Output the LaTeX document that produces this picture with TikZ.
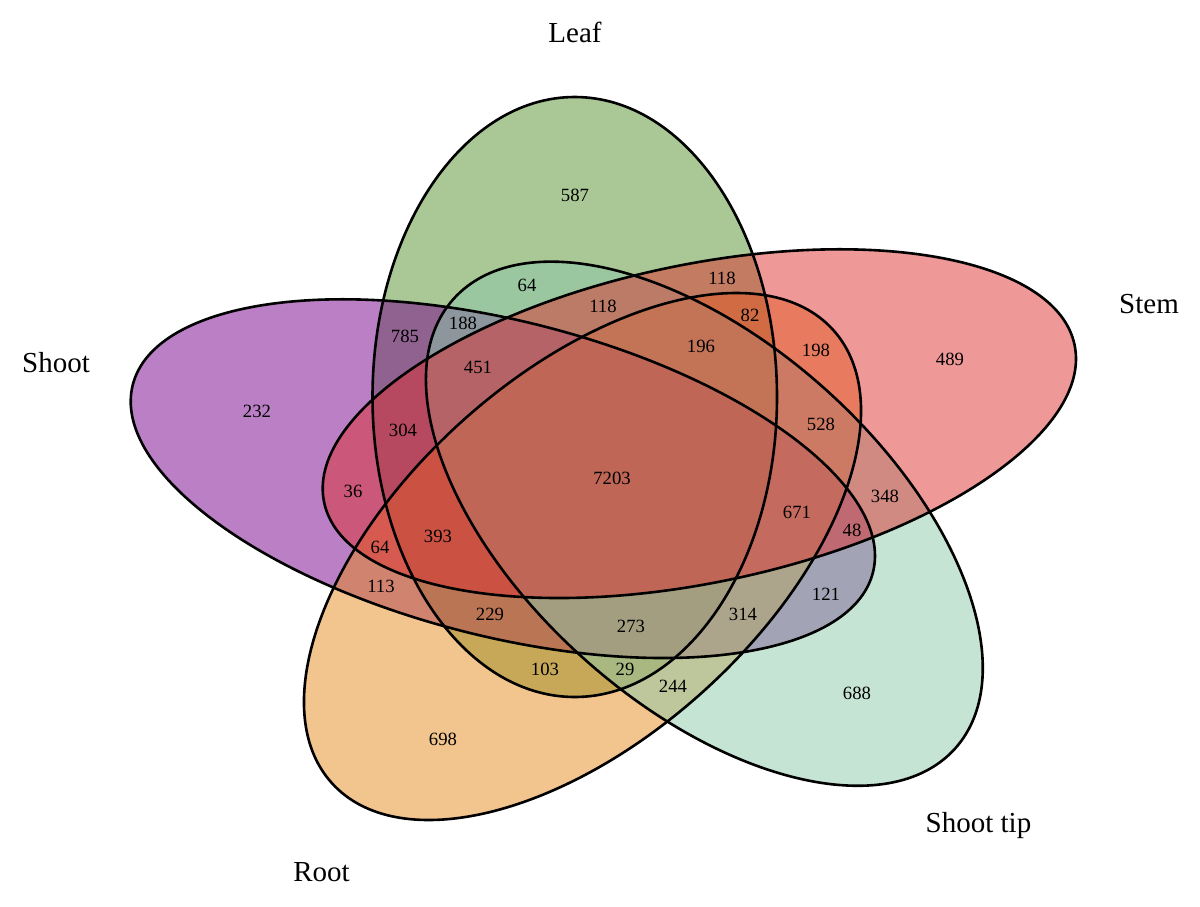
\documentclass[tikz,border=0pt]{standalone}
\usepackage{fontspec}
\setmainfont{Liberation Serif}
\definecolor{leafc}{RGB}{85,143,45}
\definecolor{shootc}{RGB}{118,0,138}
\definecolor{rootc}{RGB}{229,137,29}
\definecolor{tipc}{RGB}{139,201,169}
\definecolor{stemc}{RGB}{221,49,49}
\begin{document}
\begin{tikzpicture}[x=1pt,y=-1pt,
  num/.style={font=\fontsize{18.7}{22}\selectfont, inner sep=0pt},
  setlab/.style={font=\fontsize{29}{34}\selectfont, inner sep=0pt},
  outline/.style={line width=2.6pt, draw=black},
  setfill/.style={fill=#1, fill opacity=0.5}]
\useasboundingbox (0,0) rectangle (1200,906);
% fills (drawing order: Leaf, Shoot, Root, Shoot tip, Stem)
\fill[setfill=leafc] (574.75,397) ellipse [x radius=202.25pt, y radius=300pt];
\fill[setfill=shootc, rotate around={-14.22:(502.85,478.65)}] (502.85,478.65) ellipse [x radius=381.8pt, y radius=157.7pt];
\fill[setfill=rootc, rotate around={42.13:(582.5,556.5)}] (582.5,556.5) ellipse [x radius=337.9pt, y radius=181.1pt];
\fill[setfill=tipc, rotate around={-41.86:(704.35,523.7)}] (704.35,523.7) ellipse [x radius=336.8pt, y radius=180.9pt];
\fill[setfill=stemc, rotate around={11.86:(699.35,423.65)}] (699.35,423.65) ellipse [x radius=383.4pt, y radius=158.9pt];
% outlines
\draw[outline] (574.75,397) ellipse [x radius=202.25pt, y radius=300pt];
\draw[outline, rotate around={-14.22:(502.85,478.65)}] (502.85,478.65) ellipse [x radius=381.8pt, y radius=157.7pt];
\draw[outline, rotate around={42.13:(582.5,556.5)}] (582.5,556.5) ellipse [x radius=337.9pt, y radius=181.1pt];
\draw[outline, rotate around={-41.86:(704.35,523.7)}] (704.35,523.7) ellipse [x radius=336.8pt, y radius=180.9pt];
\draw[outline, rotate around={11.86:(699.35,423.65)}] (699.35,423.65) ellipse [x radius=383.4pt, y radius=158.9pt];
% set labels
\node[setlab] (lLeaf) at (575,32) {Leaf};
\node[setlab] (lStem) at (1149,304) {Stem};
\node[setlab] (lShoot) at (56,363) {Shoot};
\node[setlab] (lRoot) at (321.5,872) {Root};
\node[setlab] (lTip) at (978.5,826) {Shoot tip};
% region counts
\node[num] (r587) at (575,195) {587};
\node[num] (r64a) at (527,285) {64};
\node[num] (r118a) at (722,278) {118};
\node[num] (r118b) at (603,306) {118};
\node[num] (r785) at (405,336) {785};
\node[num] (r188) at (463,323) {188};
\node[num] (r82) at (750,315) {82};
\node[num] (r196) at (701,346) {196};
\node[num] (r198) at (816,350) {198};
\node[num] (r489) at (950,359) {489};
\node[num] (r451) at (478,367) {451};
\node[num] (r232) at (257,411) {232};
\node[num] (r304) at (403,430) {304};
\node[num] (r528) at (821,424) {528};
\node[num] (r7203) at (612,478) {7203};
\node[num] (r36) at (353,491) {36};
\node[num] (r671) at (797,512) {671};
\node[num] (r348) at (885,496) {348};
\node[num] (r48) at (852,530) {48};
\node[num] (r64b) at (380,547) {64};
\node[num] (r393) at (438,536) {393};
\node[num] (r113) at (381,586) {113};
\node[num] (r229) at (490,614) {229};
\node[num] (r273) at (631,626) {273};
\node[num] (r314) at (743,614) {314};
\node[num] (r121) at (826,594) {121};
\node[num] (r103) at (545,669) {103};
\node[num] (r29) at (625,669) {29};
\node[num] (r244) at (673,686) {244};
\node[num] (r698) at (443,739) {698};
\node[num] (r688) at (857,693) {688};
\end{tikzpicture}
\end{document}
